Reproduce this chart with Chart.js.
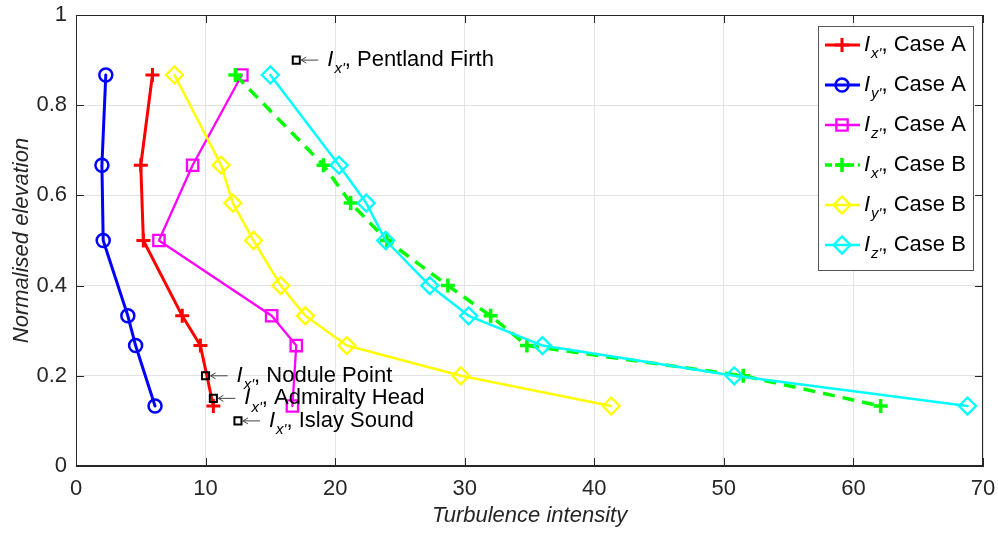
<!DOCTYPE html>
<html>
<head>
<meta charset="utf-8">
<title>Turbulence intensity profiles</title>
<script src="https://cdn.jsdelivr.net/npm/chart.js@4"></script>
<style>
  html, body { margin: 0; padding: 0; background: #fff; }
  #wrap { width: 998px; height: 536px; }
</style>
</head>
<body>
<div id="wrap"><canvas id="chart" width="998" height="536"></canvas></div>
<script>
// elevations for each case
var elevA = [0.867, 0.667, 0.5, 0.333, 0.267, 0.133];
var elevB = [0.867, 0.667, 0.583, 0.5, 0.4, 0.333, 0.267, 0.2, 0.133];

// turbulence intensity (%) per component
var ixA = [5.9, 5.0, 5.2, 8.2, 9.6, 10.6];
var iyA = [2.3, 2.0, 2.1, 4.0, 4.6, 6.1];
var izA = [12.8, 9.0, 6.4, 15.1, 17.0, 16.7];
var ixB = [12.3, 19.1, 21.2, 24.0, 28.7, 32.0, 34.8, 51.5, 62.1];
var iyB = [7.6, 11.2, 12.1, 13.7, 15.8, 17.7, 20.9, 29.7, 41.3];
var izB = [15.0, 20.3, 22.4, 23.9, 27.3, 30.3, 36.0, 50.8, 68.8];

// measured sites
var siteNames = ["Pentland Firth", "Nodule Point", "Admiralty Head", "Islay Sound"];
var siteIx = [17, 10, 10.6, 12.5];
var siteElev = [0.9, 0.2, 0.15, 0.1];

var xTicks = [0, 10, 20, 30, 40, 50, 60, 70];
var yTicks = [0, 0.2, 0.4, 0.6, 0.8, 1];
var yTickLabels = ["0", "0.2", "0.4", "0.6", "0.8", "1"];

var FONT = "'Liberation Sans', Arial, sans-serif";
var INK = "#262626";

function pts(xs, ys) {
    var out = [];
    for (var i = 0; i < xs.length; i++) out.push({x: xs[i], y: ys[i]});
    return out;
}

function series(sub, caseName, xs, ys, color, style, radius, lw, pw, dash, order) {
    return {
        label: sub + ", Case " + caseName,
        sub: sub,
        caseName: caseName,
        data: pts(xs, ys),
        showLine: true,
        borderColor: color,
        backgroundColor: "rgba(0,0,0,0)",
        borderWidth: lw,
        borderDash: dash,
        borderJoinStyle: "round",
        borderCapStyle: dash.length ? "butt" : "round",
        pointStyle: style,
        pointRadius: radius,
        pointBorderWidth: pw,
        pointBorderColor: color,
        pointBackgroundColor: "rgba(0,0,0,0)",
        pointHoverRadius: radius,
        order: order
    };
}

var datasets = [
    series("x'", "A", ixA, elevA, "#ff0000", "cross", 7, 3, 3, [], 6),
    series("y'", "A", iyA, elevA, "#0000ff", "circle", 6.5, 3, 2.5, [], 5),
    series("z'", "A", izA, elevA, "#ff00ff", "rect", 8, 2.3, 2.3, [], 4),
    series("x'", "B", ixB, elevB, "#00ff00", "cross", 7, 3.5, 3.5, [12, 8], 3),
    series("y'", "B", iyB, elevB, "#ffff00", "rectRot", 8.5, 2.5, 2.3, [], 2),
    series("z'", "B", izB, elevB, "#00ffff", "rectRot", 8.5, 2.5, 2.3, [], 1),
    {
        label: "sites",
        data: pts(siteIx, siteElev),
        showLine: false,
        pointStyle: "rect",
        pointRadius: 5,
        pointBorderWidth: 2,
        pointBorderColor: "#000",
        pointBackgroundColor: "rgba(0,0,0,0)",
        order: 0
    }
];

// "I" + subscript + trailing text
function richLabel(ctx, x, y, sub, rest) {
    ctx.save();
    ctx.textBaseline = "middle";
    ctx.textAlign = "left";
    ctx.fillStyle = "#000";
    ctx.font = "italic 22px " + FONT;
    ctx.fillText("I", x, y);
    x += ctx.measureText("I").width + 1;
    ctx.font = "italic 15px " + FONT;
    ctx.fillText(sub, x, y + 9);
    x += ctx.measureText(sub).width;
    ctx.font = "22px " + FONT;
    ctx.fillText(rest, x, y);
    ctx.restore();
}

var boxPlugin = {
    id: "box",
    afterDraw: function(chart) {
        var ctx = chart.ctx, a = chart.chartArea;
        var xs = chart.scales.x, ys = chart.scales.y;
        ctx.save();
        ctx.strokeStyle = INK;
        ctx.lineWidth = 1;
        ctx.strokeRect(a.left + 0.5, a.top + 0.5, a.right - a.left - 1, a.bottom - a.top - 1);
        ctx.beginPath();
        xTicks.forEach(function(v) {
            var px = Math.round(xs.getPixelForValue(v)) + 0.5;
            ctx.moveTo(px, a.bottom); ctx.lineTo(px, a.bottom - 8);
            ctx.moveTo(px, a.top); ctx.lineTo(px, a.top + 8);
        });
        yTicks.forEach(function(v) {
            var py = Math.round(ys.getPixelForValue(v)) + 0.5;
            ctx.moveTo(a.left, py); ctx.lineTo(a.left + 8, py);
            ctx.moveTo(a.right, py); ctx.lineTo(a.right - 8, py);
        });
        ctx.stroke();

        // site annotations: arrow pointing back at the marker, then label
        for (var i = 0; i < siteNames.length; i++) {
            var mx = xs.getPixelForValue(siteIx[i]);
            var my = ys.getPixelForValue(siteElev[i]);
            ctx.strokeStyle = "#444";
            ctx.lineWidth = 1;
            ctx.beginPath();
            ctx.moveTo(mx + 5, my); ctx.lineTo(mx + 22, my);
            ctx.moveTo(mx + 10, my - 3); ctx.lineTo(mx + 5, my); ctx.lineTo(mx + 10, my + 3);
            ctx.stroke();
            richLabel(ctx, mx + 31, my, "x'", ", " + siteNames[i]);
        }

        // legend
        var lx = 818, ly = 26, lw = 155, lh = 244;
        ctx.fillStyle = "#fff";
        ctx.fillRect(lx, ly, lw, lh);
        ctx.strokeStyle = "#555";
        ctx.lineWidth = 1;
        ctx.strokeRect(lx + 0.5, ly + 0.5, lw, lh);
        var row = 0;
        chart.data.datasets.forEach(function(ds) {
            if (!ds.sub) return;
            var cy = 45 + row * 40;
            ctx.save();
            ctx.strokeStyle = ds.borderColor;
            ctx.lineWidth = ds.borderWidth;
            ctx.setLineDash(ds.borderDash.length ? [7, 4] : []);
            ctx.beginPath();
            ctx.moveTo(825, cy); ctx.lineTo(860, cy);
            ctx.stroke();
            ctx.setLineDash([]);
            ctx.lineWidth = ds.pointBorderWidth;
            ctx.fillStyle = "rgba(0,0,0,0)";
            Chart.helpers.drawPoint(ctx, {
                pointStyle: ds.pointStyle,
                radius: ds.pointRadius,
                rotation: 0,
                borderWidth: ds.pointBorderWidth
            }, 842, cy);
            ctx.restore();
            richLabel(ctx, 864, cy, ds.sub, ", Case " + ds.caseName);
            row++;
        });
        ctx.restore();
    }
};

new Chart(document.getElementById("chart"), {
    type: "scatter",
    data: { datasets: datasets },
    options: {
        responsive: false,
        animation: false,
        layout: { padding: { top: 15, right: 15, left: 0, bottom: 0 } },
        plugins: { legend: { display: false }, tooltip: { enabled: false } },
        scales: {
            x: {
                type: "linear",
                min: 0, max: 70,
                afterFit: function(s) { s.height = 70; s.paddingLeft = 0; s.paddingRight = 0; },
                afterBuildTicks: function(s) { s.ticks = xTicks.map(function(v) { return {value: v}; }); },
                grid: { color: "#e3e3e3", drawTicks: false },
                border: { color: INK, width: 1 },
                ticks: { color: INK, padding: 10, font: { family: FONT, size: 22 } },
                title: {
                    display: true, text: "Turbulence intensity", color: INK,
                    padding: { top: 0, bottom: 7 },
                    font: { family: FONT, size: 22, style: "italic" }
                }
            },
            y: {
                type: "linear",
                min: 0, max: 1,
                afterFit: function(s) { s.width = 76; s.paddingTop = 0; s.paddingBottom = 0; },
                afterBuildTicks: function(s) { s.ticks = yTicks.map(function(v) { return {value: v}; }); },
                grid: { color: "#e3e3e3", drawTicks: false },
                border: { color: INK, width: 1 },
                ticks: {
                    color: INK, padding: 9, font: { family: FONT, size: 22 },
                    callback: function(v) { return yTickLabels[yTicks.indexOf(v)]; }
                },
                title: {
                    display: true, text: "Normalised elevation", color: INK,
                    padding: { top: 9, bottom: 0 },
                    font: { family: FONT, size: 22, style: "italic" }
                }
            }
        }
    },
    plugins: [boxPlugin]
});
</script>
</body>
</html>
